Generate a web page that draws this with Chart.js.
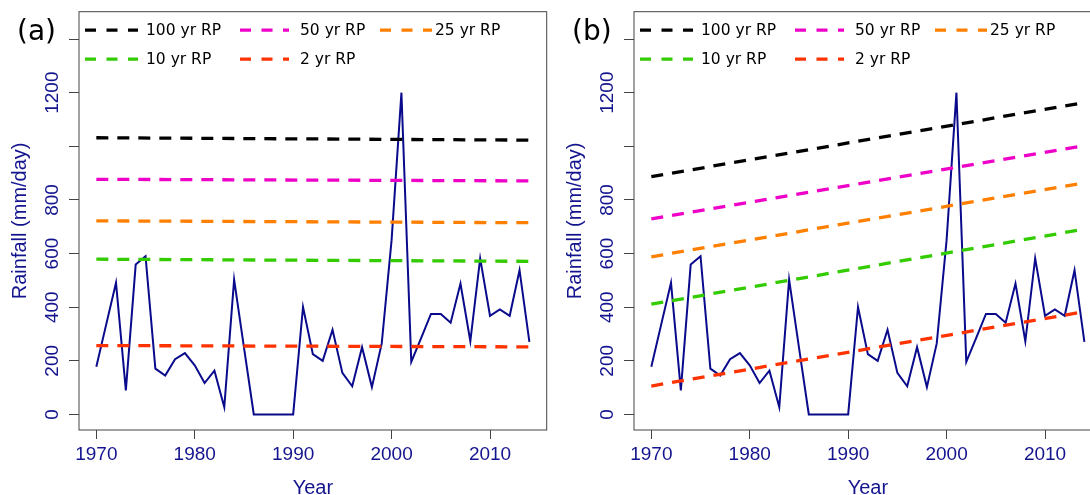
<!DOCTYPE html>
<html>
<head>
<meta charset="utf-8">
<script src="https://cdn.jsdelivr.net/npm/chart.js@4.4.1/dist/chart.umd.min.js"></script>
<style>
    html, body { margin: 0; padding: 0; background: #fff; overflow: hidden; }
    body { width: 1090px; height: 495px; position: relative; }
    canvas { position: absolute; top: 0; }
    #chartA { left: 0; }
    #chartB { left: 555px; }
    .panel-tag {
        position: absolute;
        font-family: "DejaVu Sans", sans-serif;
        font-size: 28px;
        line-height: 28px;
        color: #000;
    }
</style>
</head>
<body>
<canvas id="chartA" width="548" height="495"></canvas>
<canvas id="chartB" width="548" height="495"></canvas>
<div class="panel-tag" style="left:17px; top:17px">(a)</div>
<div class="panel-tag" style="left:572px; top:17px">(b)</div>
<script>
const years = [
    1970, 1971, 1972, 1973, 1974, 1975, 1976, 1977, 1978, 1979,
    1980, 1981, 1982, 1983, 1984, 1985, 1986, 1987, 1988, 1989,
    1990, 1991, 1992, 1993, 1994, 1995, 1996, 1997, 1998, 1999,
    2000, 2001, 2002, 2003, 2004, 2005, 2006, 2007, 2008, 2009,
    2010, 2011, 2012, 2013, 2014,
];
const rainfall = [
    178, 335, 491, 90, 559, 590, 171, 145, 206, 229,
    183, 117, 163, 27, 503, 250, 0, 0, 0, 0,
    0, 401, 225, 200, 316, 155, 105, 251, 102, 265,
    650, 1200, 196, 285, 375, 375, 342, 488, 273, 582,
    368, 392, 368, 538, 271,
];

// return period levels at the first and last year, panel (a) stationary, (b) non-stationary
const rpLabels = ['100 yr RP', '50 yr RP', '25 yr RP', '10 yr RP', '2 yr RP'];
const rpStartA = [1032, 877, 722, 579, 257];
const rpEndA = [1023, 871, 715, 571, 252];
const rpStartB = [887, 729, 588, 411, 106];
const rpEndB = [1163, 1002, 864, 691, 383];

const xTicks = [1970, 1980, 1990, 2000, 2010];
const yTicks = [0, 200, 400, 600, 800, 1000, 1200, 1400];
// R dropped the 1000 and 1400 labels, only these are printed
const yTickLabels = [0, 200, 400, 600, 800, 1200];

const rpColors = ['#000000', '#ee00c8', '#ff7f00', '#33cc00', '#ff3300'];
const rainColor = '#0a0a8c';
const textColor = '#14148f';
const axisColor = '#444444';

// legend slots inside the plot box: [sample start, sample end, text start] from the box's left edge
const legendCols = [[6, 59, 67], [161, 210, 221], [301, 353, 356]];
const legendRows = [18.5, 47.5];

const plotBox = {
    id: 'plotBox',
    afterDraw(chart) {
        const { ctx, chartArea: a } = chart;
        ctx.save();
        ctx.strokeStyle = axisColor;
        ctx.lineWidth = 1;
        ctx.strokeRect(a.left, a.top, a.right - a.left, a.bottom - a.top);
        ctx.restore();
    },
};

const rpLegend = {
    id: 'rpLegend',
    afterDatasetsDraw(chart) {
        const { ctx, chartArea: a } = chart;
        ctx.save();
        ctx.font = '15.5px "DejaVu Sans"';
        ctx.textBaseline = 'middle';
        ctx.lineWidth = 3.3;
        rpLabels.forEach((label, i) => {
            const [x0, x1, xt] = legendCols[i % 3];
            const y = a.top + legendRows[Math.floor(i / 3)];
            ctx.strokeStyle = rpColors[i];
            ctx.setLineDash([11, 10.5]);
            ctx.beginPath();
            ctx.moveTo(a.left + x0, y);
            ctx.lineTo(a.left + x1, y);
            ctx.stroke();
            ctx.fillStyle = '#000';
            ctx.fillText(label, a.left + xt, y + 0.5);
        });
        ctx.restore();
    },
};

function buildChart(canvasId, rpStart, rpEnd) {
    const rpSets = rpLabels.map((label, i) => ({
        label,
        data: [
            { x: years[0], y: rpStart[i] },
            { x: years[years.length - 1], y: rpEnd[i] },
        ],
        borderColor: rpColors[i],
        borderWidth: 3.3,
        borderDash: [12, 9],
        borderCapStyle: 'butt',
        pointRadius: 0,
    }));

    const rainSet = {
        label: 'Rainfall',
        data: years.map((yr, i) => ({ x: yr, y: rainfall[i] })),
        borderColor: rainColor,
        borderWidth: 2,
        pointRadius: 0,
    };

    const tickFont = { family: 'Liberation Sans', size: 19 };
    const titleFont = { family: 'Liberation Sans', size: 20 };

    return new Chart(document.getElementById(canvasId), {
        type: 'line',
        data: { datasets: [...rpSets, rainSet] },
        options: {
            responsive: false,
            animation: false,
            layout: { padding: { top: 11.7, right: 1.3, left: 0, bottom: 0 } },
            elements: { line: { tension: 0 } },
            plugins: {
                legend: { display: false },
                tooltip: { enabled: false },
            },
            scales: {
                x: {
                    type: 'linear',
                    min: 1968.24,
                    max: 2015.76,
                    afterFit: (scale) => { scale.height = 65; },
                    afterBuildTicks: (scale) => { scale.ticks = xTicks.map((v) => ({ value: v })); },
                    border: { display: false },
                    grid: { drawOnChartArea: false, drawTicks: true, tickLength: 9, color: axisColor },
                    ticks: {
                        autoSkip: false,
                        maxRotation: 0,
                        padding: 4,
                        color: textColor,
                        font: tickFont,
                        callback: (v) => String(v),
                    },
                    title: {
                        display: true,
                        text: 'Year',
                        color: textColor,
                        font: titleFont,
                        padding: { top: 0, bottom: -5 },
                    },
                },
                y: {
                    type: 'linear',
                    min: -58,
                    max: 1502,
                    afterFit: (scale) => { scale.width = 79; },
                    afterBuildTicks: (scale) => { scale.ticks = yTicks.map((v) => ({ value: v })); },
                    border: { display: false },
                    grid: { drawOnChartArea: false, drawTicks: true, tickLength: 10, color: axisColor },
                    ticks: {
                        autoSkip: false,
                        minRotation: 90,
                        maxRotation: 90,
                        crossAlign: 'center',
                        padding: -5,
                        color: textColor,
                        font: tickFont,
                        callback: (v) => (yTickLabels.includes(v) ? String(v) : ''),
                    },
                    title: {
                        display: true,
                        text: 'Rainfall (mm/day)',
                        color: textColor,
                        font: titleFont,
                        padding: { top: 8, bottom: 0 },
                    },
                },
            },
        },
        plugins: [plotBox, rpLegend],
    });
}

buildChart('chartA', rpStartA, rpEndA);
buildChart('chartB', rpStartB, rpEndB);
</script>
</body>
</html>
